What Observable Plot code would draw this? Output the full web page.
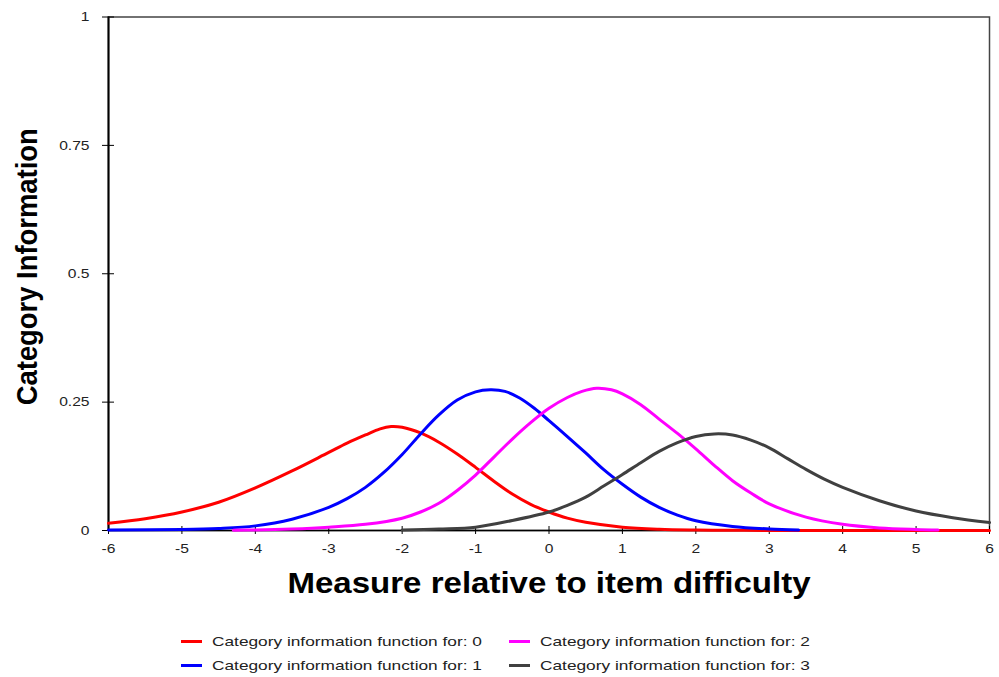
<!DOCTYPE html>
<html><head><meta charset="utf-8">
<script src="https://cdn.jsdelivr.net/npm/d3@7"></script>
<script src="https://cdn.jsdelivr.net/npm/@observablehq/plot@0.6"></script>
<style>
body{margin:0;background:#fff;font-family:"Liberation Sans",Arial,sans-serif;}
#wrap{position:relative;width:999px;height:677px;overflow:hidden}
#wrap svg{display:block}
.leg{position:absolute;height:20px;display:flex;align-items:center;font-size:13.5px;color:#222;white-space:nowrap}
.sw{display:inline-block;width:21px;height:3px;margin-right:10px}
.lt{display:inline-block;transform:scaleX(1.28);transform-origin:left center}
</style></head><body><div id="wrap"></div>
<script>
const categories = ["0", "1", "2", "3"];
const colors = ["#ff0000", "#0000ff", "#ff00ff", "#404040"];

// category 0 (red)
const x0 = [-6, -5.5, -5, -4.5, -4, -3.5, -3, -2.75, -2.5, -2.3, -2.15, -2, -1.75, -1.5, -1.25, -1, -0.75, -0.5, -0.25, 0, 0.25, 0.5, 1, 1.5, 2, 2.5, 3, 4, 5, 6];
const y0 = [0.014, 0.023, 0.036, 0.055, 0.083, 0.116, 0.152, 0.170, 0.186, 0.198, 0.2025, 0.201, 0.190, 0.172, 0.149, 0.123, 0.096, 0.071, 0.051, 0.036, 0.024, 0.016, 0.0065, 0.0025, 0.001, 0.0004, 0.0001, 0, 0, 0];
// category 1 (blue)
const x1 = [-6, -5, -4.5, -4, -3.5, -3, -2.75, -2.5, -2.25, -2, -1.75, -1.5, -1.25, -1, -0.8, -0.6, -0.4, -0.2, 0, 0.25, 0.5, 0.75, 1, 1.25, 1.5, 1.75, 2, 2.5, 3, 3.4];
const y1 = [0.001, 0.002, 0.004, 0.009, 0.022, 0.045, 0.062, 0.084, 0.113, 0.148, 0.188, 0.225, 0.254, 0.270, 0.274, 0.271, 0.258, 0.238, 0.214, 0.183, 0.151, 0.118, 0.090, 0.065, 0.045, 0.030, 0.019, 0.008, 0.003, 0.001];
// category 2 (magenta)
const x2 = [-4.3, -4, -3.5, -3, -2.5, -2, -1.75, -1.5, -1.25, -1, -0.75, -0.5, -0.25, 0, 0.25, 0.45, 0.65, 0.85, 1, 1.25, 1.5, 1.75, 2, 2.25, 2.5, 2.75, 3, 3.5, 4, 4.5, 5, 5.3];
const y2 = [0.0005, 0.001, 0.003, 0.0065, 0.012, 0.024, 0.036, 0.053, 0.078, 0.108, 0.143, 0.178, 0.210, 0.238, 0.259, 0.271, 0.277, 0.274, 0.266, 0.245, 0.217, 0.189, 0.159, 0.127, 0.097, 0.073, 0.052, 0.026, 0.012, 0.005, 0.002, 0.001];
// category 3 (dark grey)
const x3 = [-2, -1.5, -1, -0.5, 0, 0.25, 0.5, 0.75, 1, 1.25, 1.5, 1.75, 2, 2.25, 2.5, 2.75, 3, 3.25, 3.5, 3.75, 4, 4.5, 5, 5.5, 6];
const y3 = [0.001, 0.003, 0.0065, 0.0195, 0.036, 0.049, 0.065, 0.087, 0.109, 0.132, 0.154, 0.171, 0.183, 0.188, 0.186, 0.176, 0.161, 0.140, 0.119, 0.100, 0.084, 0.058, 0.038, 0.025, 0.0156];

const xTicks = [-6, -5, -4, -3, -2, -1, 0, 1, 2, 3, 4, 5, 6];
const xTickLabels = ["-6", "-5", "-4", "-3", "-2", "-1", "0", "1", "2", "3", "4", "5", "6"];
const yTicks = [0, 0.25, 0.5, 0.75, 1];
const yTickLabels = ["0", "0.25", "0.5", "0.75", "1"];
const xLabel = "Measure relative to item difficulty";
const yLabel = "Category Information";
const legendPrefix = "Category information function for: ";

const series = [[x0, y0], [x1, y1], [x2, y2], [x3, y3]];
const rows = [];
series.forEach(([xs, ys], i) => xs.forEach((x, j) => rows.push({cat: categories[i], x, y: ys[j]})));

const chart = Plot.plot({
  width: 999, height: 615,
  marginLeft: 108, marginRight: 10, marginTop: 16.5, marginBottom: 85,
  x: {domain: [-6, 6]},
  y: {domain: [0, 1]},
  color: {domain: categories, range: colors},
  style: {fontFamily: "'Liberation Sans', Arial, sans-serif", fontSize: "13px", color: "#222", background: "#fff"},
  marks: [
    Plot.frame({stroke: "#444", strokeWidth: 1.5}),
    Plot.ruleX([-6], {stroke: "#000", strokeWidth: 2}),
    Plot.ruleY([0], {stroke: "#000", strokeWidth: 1.5}),
    Plot.axisY({ticks: yTicks, tickSize: 12, dx: 6, tickFormat: () => "", label: null, stroke: "#000"}),
    Plot.axisY({ticks: yTicks, tickSize: 0, tickPadding: 19, tickFormat: d => yTickLabels[yTicks.indexOf(d)], label: null}),
    Plot.axisX({ticks: xTicks, tickSize: 8, dy: -4, tickFormat: () => "", label: null, stroke: "#000"}),
    Plot.axisX({ticks: xTicks, tickSize: 0, tickPadding: 13, tickFormat: d => xTickLabels[xTicks.indexOf(d)], label: null}),
    Plot.line(rows, {x: "x", y: "y", z: "cat", stroke: "cat", strokeWidth: 3, curve: "catmull-rom"}),
    Plot.text([xLabel], {frameAnchor: "bottom", dy: 53, text: d => d, textAnchor: "middle", lineAnchor: "middle", fontSize: 30, fontWeight: "bold", fill: "#000"}),
    Plot.text([yLabel], {frameAnchor: "left", dx: -81, dy: -7, rotate: -90, text: d => d, textAnchor: "middle", lineAnchor: "middle", fontSize: 30, fontWeight: "bold", fill: "#000"})
  ]
});

const wrap = document.getElementById("wrap");
wrap.appendChild(chart);

// horizontal stretch of texts to match the reference rendering
const svg = d3.select(chart);
svg.selectAll("g[aria-label$='tick label'] text").each(function() {
  const t = this.textContent;
  if (!t) return;
  const L = this.getComputedTextLength();
  this.setAttribute("textLength", L * 1.2);
  this.setAttribute("lengthAdjust", "spacingAndGlyphs");
});
svg.selectAll("g[aria-label='text'] text").each(function() {
  const t = this.textContent;
  if (t === xLabel) { this.setAttribute("textLength", 523); this.setAttribute("lengthAdjust", "spacingAndGlyphs"); }
  if (t === yLabel) { this.setAttribute("textLength", 277); this.setAttribute("lengthAdjust", "spacingAndGlyphs"); }
});

// legend
const legPos = [[181, 631], [181, 655], [509, 631], [509, 655]];
categories.forEach((c, i) => {
  const d = document.createElement("div");
  d.className = "leg";
  d.style.left = legPos[i][0] + "px";
  d.style.top = legPos[i][1] + "px";
  d.innerHTML = `<span class="sw" style="background:${colors[i]}"></span><span class="lt">${legendPrefix}${c}</span>`;
  wrap.appendChild(d);
});
</script></body></html>
